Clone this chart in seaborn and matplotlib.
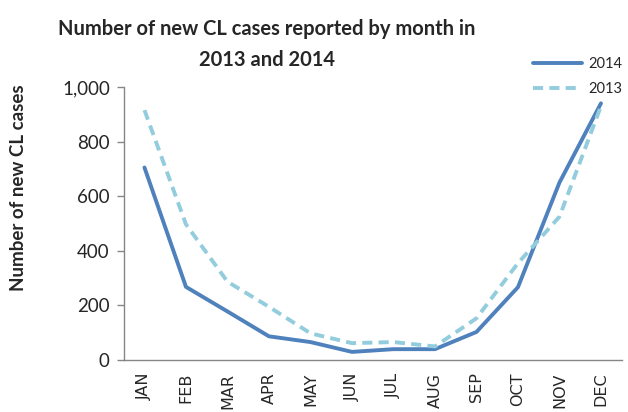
import pandas as pd
import numpy as np
import matplotlib.pyplot as plt
import seaborn as sns
from matplotlib.ticker import FixedLocator, FuncFormatter
from matplotlib.lines import Line2D

# data
months = ["JAN", "FEB", "MAR", "APR", "MAY", "JUN", "JUL", "AUG", "SEP", "OCT", "NOV", "DEC"]
cases_2014 = [705, 268, 178, 87, 66, 30, 40, 40, 103, 267, 650, 940]
cases_2013 = [915, 497, 287, 195, 98, 62, 66, 50, 153, 355, 525, 930]

df = pd.DataFrame({
    "month": months * 2,
    "pos": list(range(12)) * 2,
    "cases": cases_2014 + cases_2013,
    "year": ["2014"] * 12 + ["2013"] * 12,
})

sns.set_style("white")
plt.rcParams["font.family"] = ["Lato", "DejaVu Sans"]

fig = plt.figure(figsize=(6.28, 4.12), dpi=100)
ax = fig.add_axes([0.197, 0.126, 0.793, 0.663])

palette = {"2014": "#4F81BD", "2013": "#93CDDD"}
sns.lineplot(data=df, x="pos", y="cases", hue="year", style="year",
             palette=palette, dashes={"2014": "", "2013": (2.6, 1.6)},
             linewidth=2.8, ax=ax, legend=False)

ax.set_xlim(-0.5, 11.5)
ax.set_ylim(0, 1000)
ax.set_xticks(range(12))
ax.set_xticklabels(months, rotation=90, fontsize=11.5, family="DejaVu Sans")
ax.xaxis.set_minor_locator(FixedLocator(np.arange(-0.5, 12, 1)))
ax.tick_params(axis="x", which="major", length=0, pad=9)
ax.tick_params(axis="x", which="minor", length=5, width=1, color="#868686", direction="out")
ax.set_yticks(range(0, 1001, 200))
ax.yaxis.set_major_formatter(FuncFormatter(lambda v, p: f"{int(v):,}"))
ax.tick_params(axis="y", length=5, width=1, color="#868686", direction="out",
               labelsize=13.5, left=True, pad=5)

for s in ["top", "right"]:
    ax.spines[s].set_visible(False)
for s in ["left", "bottom"]:
    ax.spines[s].set_color("#868686")
    ax.spines[s].set_linewidth(1)

ax.set_xlabel("")
ax.set_ylabel("Number of new CL cases", fontsize=13.5, fontweight="bold")
# label sits a bit above the axis middle, near the left edge
ax.yaxis.set_label_coords(-0.195, 0.63)

fig.text(0.425, 0.955, "Number of new CL cases reported by month in\n2013 and 2014",
         ha="center", va="top", fontsize=14.5, fontweight="bold", linespacing=1.7)

# legend at top right
handles = [Line2D([], [], color=palette["2014"], lw=2.8),
           Line2D([], [], color=palette["2013"], lw=2.8, dashes=(2.6, 1.6))]
fig.legend(handles, ["2014", "2013"], loc="upper right", bbox_to_anchor=(1.0, 0.875),
           frameon=False, fontsize=10.5, handlelength=3.4, handletextpad=0.4,
           labelspacing=0.75, borderaxespad=0)

fig.savefig("out.png", dpi=100)
